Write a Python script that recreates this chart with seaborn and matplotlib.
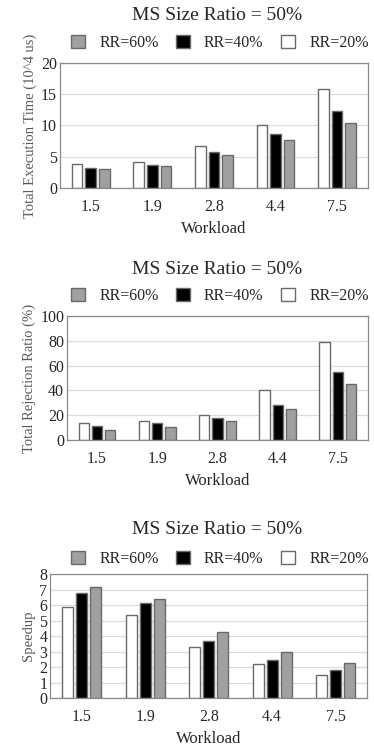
import pandas as pd
import numpy as np
import matplotlib
matplotlib.use('Agg')
import matplotlib.pyplot as plt
import seaborn as sns

# ── data ─────────────────────────────────────────────────────
workloads = ['1.5', '1.9', '2.8', '4.4', '7.5']
rr_levels = ['RR=20%', 'RR=40%', 'RR=60%']
bar_colors = {'RR=20%': '#ffffff', 'RR=40%': '#000000', 'RR=60%': '#a0a0a0'}

# total execution time (10^4 us)
exec_rr20 = [3.9, 4.2, 6.7, 10.0, 15.9]
exec_rr40 = [3.25, 3.75, 5.7, 8.65, 12.3]
exec_rr60 = [3.05, 3.55, 5.25, 7.7, 10.45]

# total rejection ratio (%)
rej_rr20 = [13.4, 15.0, 20.2, 40.5, 78.8]
rej_rr40 = [11.0, 13.4, 18.0, 28.2, 55.1]
rej_rr60 = [7.8, 10.2, 15.6, 25.0, 45.2]

# speedup
spd_rr20 = [5.9, 5.35, 3.3, 2.2, 1.46]
spd_rr40 = [6.76, 6.16, 3.68, 2.45, 1.78]
spd_rr60 = [7.15, 6.42, 4.24, 2.95, 2.25]

sns.set_theme(style='white')
plt.rcParams['font.family'] = ['Liberation Serif', 'DejaVu Serif']


def long_df(s20, s40, s60):
    rows = []
    for rr, vals in zip(rr_levels, [s20, s40, s60]):
        for w, v in zip(workloads, vals):
            rows.append({'Workload': w, 'RR': rr, 'Value': v})
    return pd.DataFrame(rows)


def panel(fig, rect, df, ylabel, yticks, title_y, legend_y):
    ax = fig.add_axes(rect)
    sns.barplot(data=df, x='Workload', y='Value', hue='RR', order=workloads,
                hue_order=rr_levels, palette=bar_colors, errorbar=None,
                width=0.66, gap=0.22, edgecolor='#6a6a6a', linewidth=1.0, ax=ax)
    ax.set_ylim(yticks[0], yticks[-1])
    ax.set_yticks(yticks)
    ax.set_yticklabels([str(t) for t in yticks], fontsize=11.5)
    ax.tick_params(axis='x', labelsize=11.5, length=0, pad=8)
    ax.tick_params(axis='y', length=0, pad=2)
    ax.yaxis.grid(True, color='#dcdcdc', linewidth=0.9)
    ax.set_axisbelow(True)
    for sp in ax.spines.values():
        sp.set_color('#8a8a8a')
        sp.set_linewidth(0.9)
    ax.set_xlabel('Workload', fontsize=12, labelpad=4)
    ax.set_ylabel(ylabel, fontsize=10.5, color='#5a5a5a', labelpad=3)
    handles, labels = ax.get_legend_handles_labels()
    ax.get_legend().remove()
    fig.legend(handles[::-1], labels[::-1], loc='center', ncol=3, frameon=False,
               bbox_to_anchor=(0.588, legend_y), fontsize=11.5,
               handlelength=0.85, handleheight=0.85, handletextpad=0.9,
               columnspacing=1.1, borderpad=0)
    fig.text(0.58, title_y, 'MS Size Ratio = 50%', ha='center', va='center',
             fontsize=14)
    return ax


fig = plt.figure(figsize=(3.74, 7.49), dpi=100)

panel(fig, [0.160, 0.749, 0.824, 0.167],
      long_df(exec_rr20, exec_rr40, exec_rr60),
      'Total Execution Time (10^4 us)', [0, 5, 10, 15, 20],
      1 - 16 / 749, 1 - 43 / 749)

panel(fig, [0.179, 0.4125, 0.805, 0.1656],
      long_df(rej_rr20, rej_rr40, rej_rr60),
      'Total Rejection Ratio (%)', [0, 20, 40, 60, 80, 100],
      1 - 270 / 749, 1 - 296 / 749)

panel(fig, [0.134, 0.068, 0.848, 0.1656],
      long_df(spd_rr20, spd_rr40, spd_rr60),
      'Speedup', [0, 1, 2, 3, 4, 5, 6, 7, 8],
      1 - 529 / 749, 1 - 559 / 749)

fig.savefig('out.png', dpi=100)
